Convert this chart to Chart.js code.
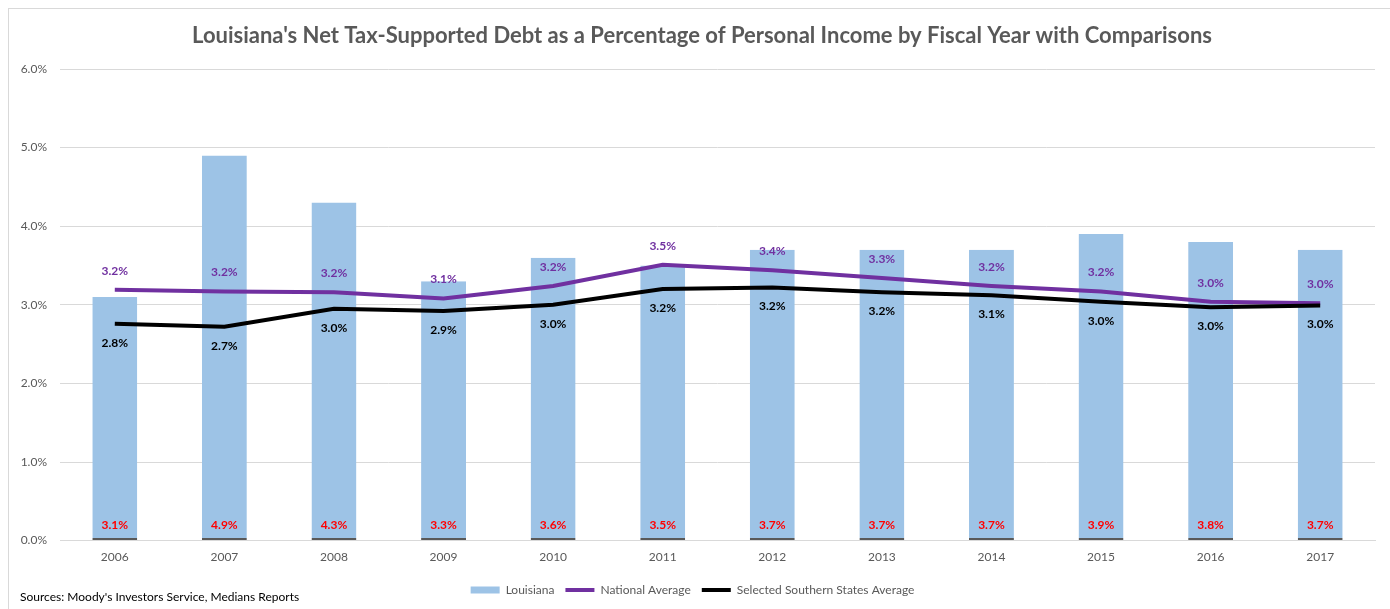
<!DOCTYPE html>
<html>
<head>
<meta charset="utf-8">
<title>Louisiana Net Tax-Supported Debt</title>
<script src="https://cdn.jsdelivr.net/npm/chart.js@4/dist/chart.umd.min.js"></script>
<style>
  html, body { margin: 0; padding: 0; background: #fff; }
  #wrap { position: relative; width: 1390px; height: 609px; overflow: hidden; }
  #frame { position: absolute; left: 8px; top: 8px; width: 1400px; height: 620px;
           border: 1px solid #d9d9d9; box-sizing: border-box; }
  canvas { position: absolute; left: 0; top: 0; }
</style>
</head>
<body>
<div id="wrap">
  <div id="frame"></div>
  <canvas id="debtChart" width="1390" height="609"></canvas>
</div>
<script>
const FONT = 'Lato, "Open Sans", sans-serif';

const years = ['2006', '2007', '2008', '2009', '2010', '2011', '2012', '2013', '2014', '2015', '2016', '2017'];
const louisiana = [3.1, 4.9, 4.3, 3.3, 3.6, 3.5, 3.7, 3.7, 3.7, 3.9, 3.8, 3.7];
const nationalAvg = [3.19, 3.17, 3.16, 3.08, 3.24, 3.51, 3.44, 3.34, 3.24, 3.17, 3.04, 3.02];
const southernAvg = [2.76, 2.72, 2.95, 2.92, 3.0, 3.2, 3.22, 3.16, 3.12, 3.04, 2.97, 2.99];
const yTicks = [0, 1, 2, 3, 4, 5, 6];

const chartTitle = "Louisiana's Net Tax-Supported Debt as a Percentage of Personal Income by Fiscal Year with Comparisons";
const sourceNote = "Sources: Moody's Investors Service, Medians Reports";

// value labels, title and source note
const annotate = {
  id: 'annotate',
  afterDatasetsDraw(chart) {
    const ctx = chart.ctx;
    ctx.save();
    ctx.textAlign = 'center';
    ctx.textBaseline = 'middle';
    ctx.font = 'bold 12px ' + FONT;
    chart.data.datasets.forEach((ds, i) => {
      const meta = chart.getDatasetMeta(i);
      meta.data.forEach((el, j) => {
        const txt = ds.data[j].toFixed(1) + '%';
        ctx.fillStyle = ds.labelColor;
        if (ds.type === 'bar') {
          ctx.fillText(txt, el.x, el.base - 15);
        } else if (ds.labelPos === 'above') {
          ctx.fillText(txt, el.x, el.y - 19);
        } else {
          ctx.fillText(txt, el.x, el.y + 19);
        }
      });
    });
    ctx.restore();
  },
  afterDraw(chart) {
    const ctx = chart.ctx;
    ctx.save();
    ctx.fillStyle = '#595959';
    ctx.textAlign = 'center';
    ctx.textBaseline = 'middle';
    ctx.font = 'bold 22px ' + FONT;
    ctx.fillText(chartTitle, 702, 36);
    ctx.fillStyle = '#000';
    ctx.textAlign = 'left';
    ctx.font = '12px ' + FONT;
    ctx.fillText(sourceNote, 20, 597);
    ctx.restore();
  }
};

new Chart(document.getElementById('debtChart'), {
  data: {
    labels: years,
    datasets: [
      {
        type: 'bar',
        label: 'Louisiana',
        data: louisiana,
        backgroundColor: '#9dc3e6',
        borderColor: '#595959',
        borderWidth: { top: 0, left: 0, right: 0, bottom: 2 },
        borderSkipped: false,
        barPercentage: 1,
        categoryPercentage: 0.41,
        labelColor: '#ff0000',
        order: 3
      },
      {
        type: 'line',
        label: 'National Average',
        data: nationalAvg,
        borderColor: '#7030a0',
        backgroundColor: '#7030a0',
        borderWidth: 4,
        pointRadius: 0,
        tension: 0,
        labelColor: '#7030a0',
        labelPos: 'above',
        order: 2
      },
      {
        type: 'line',
        label: 'Selected Southern States Average',
        data: southernAvg,
        borderColor: '#000000',
        backgroundColor: '#000000',
        borderWidth: 4,
        pointRadius: 0,
        tension: 0,
        labelColor: '#000000',
        labelPos: 'below',
        order: 1
      }
    ]
  },
  options: {
    responsive: false,
    animation: false,
    layout: { padding: { left: 10, right: 15, top: 69, bottom: 3 } },
    plugins: {
      title: { display: false },
      tooltip: { enabled: false },
      legend: {
        position: 'bottom',
        labels: {
          color: '#595959',
          font: { family: FONT, size: 12 },
          usePointStyle: true,
          pointStyleWidth: 29,
          boxHeight: 7,
          padding: 11,
          generateLabels(chart) {
            return chart.data.datasets.map((ds, i) => ({
              text: ds.label,
              datasetIndex: i,
              fillStyle: ds.type === 'bar' ? ds.backgroundColor : ds.borderColor,
              strokeStyle: ds.type === 'bar' ? ds.backgroundColor : ds.borderColor,
              lineWidth: ds.type === 'bar' ? 0 : 4,
              pointStyle: ds.type === 'bar' ? 'rect' : 'line',
              fontColor: '#595959',
              hidden: false
            }));
          }
        }
      }
    },
    scales: {
      x: {
        grid: { display: false, drawTicks: false },
        border: { display: true, color: '#d9d9d9', width: 1 },
        ticks: { color: '#595959', font: { family: FONT, size: 12 }, padding: 9 }
      },
      y: {
        min: 0,
        max: 6,
        afterFit(scale) { scale.width = 50; },
        afterBuildTicks(scale) { scale.ticks = yTicks.map(v => ({ value: v })); },
        grid: { color: '#d9d9d9', drawTicks: false },
        border: { display: false },
        ticks: {
          color: '#595959',
          font: { family: FONT, size: 12 },
          padding: 13,
          callback: v => v.toFixed(1) + '%'
        }
      }
    }
  },
  plugins: [annotate]
});
</script>
</body>
</html>
